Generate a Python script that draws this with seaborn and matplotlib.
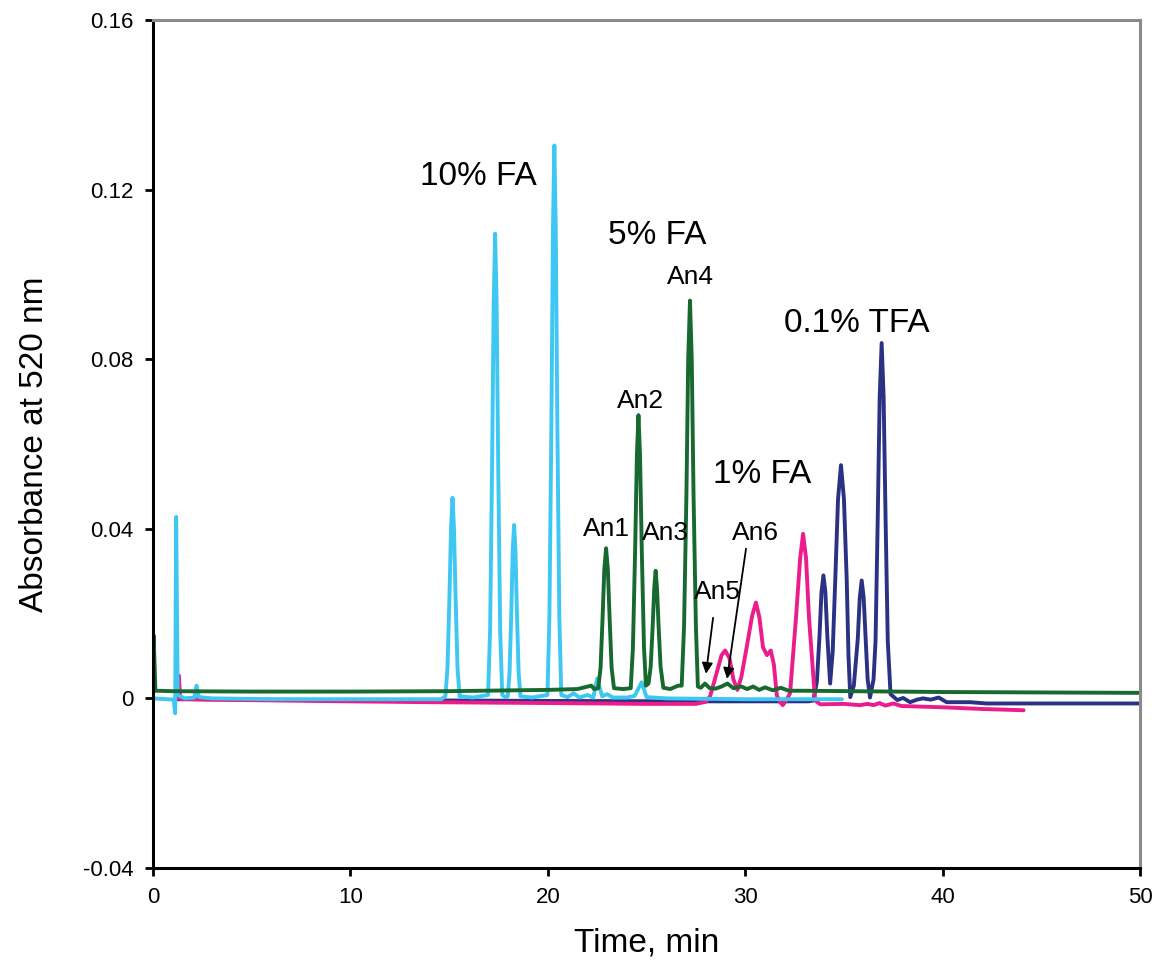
import matplotlib
matplotlib.use("Agg")
import matplotlib.pyplot as plt
import seaborn as sns
import pandas as pd

# chromatogram traces, points (time in min, absorbance)
fa10_t = [0, 1.05, 1.12, 1.17, 1.25, 1.6, 2.1, 2.2, 2.32, 3, 6, 10, 14.6,
          14.81, 14.915, 15.015, 15.095, 15.17, 15.245, 15.325, 15.425, 15.53,
          16.2,
          16.97, 17.075, 17.175, 17.255, 17.33, 17.405, 17.485, 17.585, 17.69,
          17.85,
          17.97, 18.06, 18.15, 18.22, 18.29, 18.36, 18.43, 18.52, 18.61,
          19.2,
          19.98, 20.08, 20.18, 20.26, 20.33, 20.40, 20.48, 20.58, 20.68,
          21.0, 21.3, 21.6, 22.0, 22.3, 22.5, 22.75, 23.0, 23.3, 24.0, 24.4,
          24.75, 25.0, 26.0, 30.0, 34.9]
fa10_a = [0.0, -0.0003, -0.0035, 0.0428, 0.0008, 0.0, 0.0002, 0.003, 0.0003,
          0.0, -0.0002, -0.0002, -0.0002,
          0.0005, 0.0071, 0.024, 0.040, 0.0473, 0.040, 0.024, 0.0071, 0.0005,
          0.0002,
          0.0008, 0.016, 0.055, 0.093, 0.1096, 0.093, 0.055, 0.016, 0.0008,
          0.0003,
          0.0005, 0.0061, 0.0205, 0.0348, 0.0409, 0.0348, 0.0205, 0.0061,
          0.0005,
          0.0002,
          0.0008, 0.0196, 0.065, 0.111, 0.1304, 0.111, 0.065, 0.0196, 0.0008,
          0.0003, 0.0012, 0.0002, 0.0008, 0.0002, 0.0047, 0.0005, 0.001,
          0.0002, 0.0002, 0.0006, 0.0038, 0.0003, 0.0, -0.0002, -0.0002]

fa5_t = [0, 0.03, 0.12, 1, 5, 10, 15, 20, 21.5, 22.2, 22.35,
         22.55, 22.67, 22.77, 22.86, 22.95, 23.04, 23.13, 23.23, 23.35, 23.8,
         24.2, 24.31, 24.42, 24.51, 24.59, 24.67, 24.76, 24.87, 24.97,
         25.1, 25.21, 25.31, 25.39, 25.46, 25.53, 25.61, 25.71, 25.85,
         26.2, 26.6,
         26.78, 26.9, 27.02, 27.11, 27.2, 27.29, 27.38, 27.5, 27.6,
         27.75, 27.96, 28.2, 28.5, 28.8, 29.1, 29.4, 29.8, 30.1, 30.4,
         30.7, 31.0, 31.4, 31.8, 32.2, 33, 40, 50]
fa5_a = [0.0, 0.0148, 0.0018, 0.0017, 0.0016, 0.0016, 0.0017, 0.002, 0.0022,
         0.003, 0.0022,
         0.0024, 0.0072, 0.0187, 0.0304, 0.0354, 0.0304, 0.0187, 0.0072,
         0.0024, 0.0022,
         0.0024, 0.012, 0.0346, 0.0572, 0.0668, 0.0572, 0.0346, 0.012, 0.003,
         0.0035, 0.0075, 0.017, 0.026, 0.0301, 0.026, 0.017, 0.0075, 0.0025,
         0.0022, 0.003,
         0.003, 0.017, 0.048, 0.080, 0.0938, 0.080, 0.048, 0.017, 0.0028,
         0.0025, 0.0035, 0.0024, 0.0023, 0.0028, 0.0035, 0.0024, 0.0028,
         0.0022, 0.0028, 0.002, 0.0026, 0.0019, 0.0025, 0.0018, 0.0018,
         0.0015, 0.0013]

fa1_t = [1.25, 1.3, 1.38, 3, 8, 14, 20, 25, 27.5, 28.0, 28.22, 28.55, 28.8,
         28.98, 29.2, 29.4, 29.6, 29.8, 30.07, 30.35, 30.54, 30.72, 30.9,
         31.1, 31.29, 31.45, 31.6, 31.75,
         31.9, 32.1, 32.27, 32.57, 32.78, 32.93, 33.08, 33.23, 33.54, 33.8,
         35, 35.8, 36.2, 36.5, 36.8, 37.1, 37.5, 37.9, 40, 42, 44.1]
fa1_a = [0.0, 0.0054, -0.0001, -0.0003, -0.0006, -0.0009, -0.0011, -0.0013,
         -0.0013, -0.0008, 0.0005, 0.006, 0.0102,
         0.0113, 0.0095, 0.0045, 0.002, 0.005, 0.012, 0.0195, 0.0226, 0.019,
         0.012, 0.0102, 0.0113, 0.008, 0.0007, -0.0008,
         -0.0016, -0.0003, 0.0012, 0.019, 0.033, 0.0388, 0.033, 0.019,
         -0.0005, -0.0014,
         -0.0013, -0.0016, -0.0013, -0.0016, -0.0011, -0.0017, -0.0012,
         -0.0018, -0.0021, -0.0025, -0.0028]

tfa_t = [1.2, 5, 10, 20, 28, 33.2, 33.45, 33.63, 33.76, 33.86, 33.96, 34.06,
         34.16, 34.3,
         34.43, 34.56, 34.7, 34.85, 35.0, 35.14, 35.23, 35.32,
         35.5, 35.6, 35.7, 35.8, 35.9, 36.0, 36.1, 36.2, 36.32,
         36.5, 36.6, 36.71, 36.81, 36.91, 37.01, 37.11, 37.22, 37.36,
         37.7, 38.0, 38.35, 38.7, 39.0, 39.4, 39.8, 40.2, 41.4, 42.2, 50]
tfa_a = [-0.0002, -0.0003, -0.0004, -0.0006, -0.0007, -0.0007, -0.0005,
         0.004, 0.0145, 0.025, 0.029, 0.025, 0.0145, 0.0035,
         0.011, 0.028, 0.047, 0.055, 0.047, 0.028, 0.01, 0.0003,
         0.003, 0.0085, 0.014, 0.0237, 0.0278, 0.0237, 0.014, 0.0045, 0.0002,
         0.0045, 0.0135, 0.042, 0.071, 0.0838, 0.071, 0.042, 0.0135, 0.001,
         -0.0004, 0.0001, -0.0009, -0.0003, 0.0, -0.0003, 0.0002, -0.0009,
         -0.0009, -0.0012, -0.0012]

traces = [
    (tfa_t, tfa_a, "#2B3183"),
    (fa1_t, fa1_a, "#EC1C8C"),
    (fa10_t, fa10_a, "#3DC7F2"),
    (fa5_t, fa5_a, "#17692F"),
]

# text labels: (text, time, absorbance, size)
labels = [
    ("10% FA", 16.46, 0.1231, 24),
    ("5% FA", 25.53, 0.1092, 24),
    ("0.1% TFA", 35.66, 0.0885, 24),
    ("1% FA", 30.85, 0.0527, 24),
    ("An1", 22.95, 0.0400, 19),
    ("An2", 24.67, 0.0701, 19),
    ("An3", 25.94, 0.0391, 19),
    ("An4", 27.20, 0.0993, 19),
    ("An5", 28.57, 0.0252, 19),
    ("An6", 30.50, 0.0391, 19),
]
arrows = [((28.37, 0.0190), (28.01, 0.0058)),
          ((30.04, 0.0353), (29.08, 0.0046))]

sns.set_style("white")
plt.rcParams["font.family"] = ["Liberation Sans", "DejaVu Sans"]
plt.rcParams["text.color"] = "black"
plt.rcParams["axes.labelcolor"] = "black"

fig = plt.figure(figsize=(11.56, 9.64), dpi=100)
ax = fig.add_axes([0.1324, 0.0996, 0.8538, 0.8797])

for t, a, col in traces:
    df = pd.DataFrame({"t": t, "a": a})
    sns.lineplot(data=df, x="t", y="a", color=col, linewidth=2.8,
                 sort=False, estimator=None, ax=ax)

for txt, x, y, fs in labels:
    ax.text(x, y, txt, fontsize=fs, ha="center", va="center", color="black")
for (x0, y0), (x1, y1) in arrows:
    ax.annotate("", xy=(x1, y1), xytext=(x0, y0),
                arrowprops=dict(arrowstyle="-|>", color="black", lw=1.3,
                                mutation_scale=16, shrinkA=0, shrinkB=0))

ax.set_xlim(0, 50)
ax.set_ylim(-0.04, 0.16)
ax.set_xticks([0, 10, 20, 30, 40, 50])
ax.set_yticks([-0.04, 0, 0.04, 0.08, 0.12, 0.16])
ax.set_yticklabels(["-0.04", "0", "0.04", "0.08", "0.12", "0.16"])
ax.tick_params(axis="both", direction="out", length=6, width=2,
               color="black", labelcolor="black", labelsize=16, pad=8,
               left=True, bottom=True)
ax.set_xlabel("Time, min", fontsize=24, labelpad=14)
ax.set_ylabel("Absorbance at 520 nm", fontsize=24, labelpad=24)

for side in ["left", "bottom"]:
    ax.spines[side].set_color("black")
    ax.spines[side].set_linewidth(2.2)
for side in ["top", "right"]:
    ax.spines[side].set_color("#8a8a8a")
    ax.spines[side].set_linewidth(2.2)

fig.savefig("out.png", dpi=100)
